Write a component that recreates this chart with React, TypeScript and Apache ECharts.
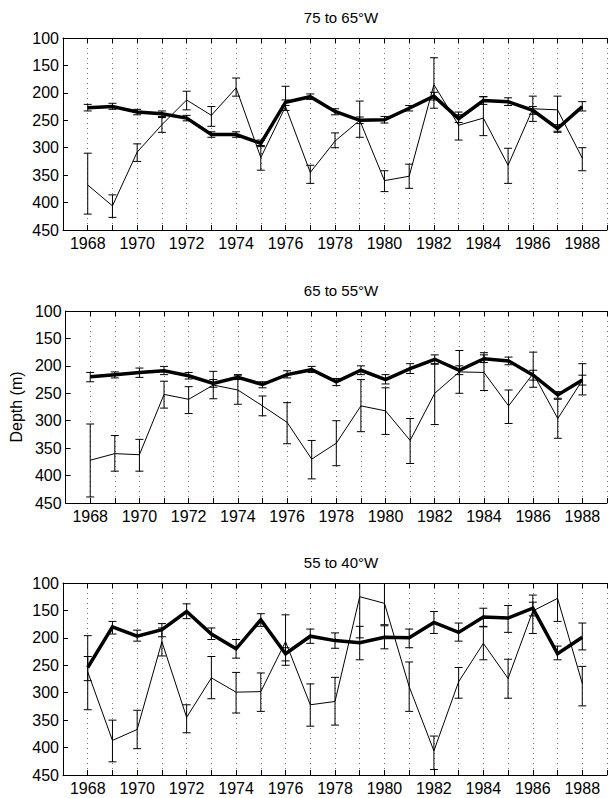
import React, { useEffect, useRef } from 'react';
import * as echarts from 'echarts';

const years = [1968, 1969, 1970, 1971, 1972, 1973, 1974, 1975, 1976, 1977, 1978, 1979, 1980, 1981, 1982, 1983, 1984, 1985, 1986, 1987, 1988];
const panelTitles = ['75 to 65°W', '65 to 55°W', '55 to 40°W'];
const yTicks = [100, 150, 200, 250, 300, 350, 400, 450];

// Panel 1: 75 to 65°W
const p1ThinMean = [368, 406, 308, 258, 213, 241, 191, 318, 225, 345, 288, 250, 360, 352, 185, 259, 246, 332, 229, 231, 319];
const p1ThinLo = [310, 386, 293, 245, 197, 225, 173, 296, 188, 332, 273, 215, 342, 330, 136, 235, 207, 301, 206, 206, 300];
const p1ThinHi = [421, 427, 325, 272, 231, 261, 206, 341, 232, 365, 300, 281, 380, 374, 228, 286, 278, 365, 252, 270, 342];
const p1ThickMean = [227, 225, 235, 238, 246, 276, 276, 292, 217, 207, 234, 250, 249, 228, 206, 247, 214, 216, 232, 265, 225];
const p1ThickLo = [221, 219, 230, 233, 241, 271, 271, 286, 213, 202, 229, 244, 243, 223, 199, 240, 207, 209, 225, 258, 216];
const p1ThickHi = [233, 230, 240, 243, 251, 281, 281, 298, 223, 212, 240, 256, 255, 233, 213, 254, 221, 223, 239, 272, 233];

// Panel 2: 65 to 55°W
const p2ThinMean = [372, 360, 362, 252, 261, 235, 244, 273, 303, 370, 341, 273, 282, 336, 250, 211, 212, 273, 214, 296, 226];
const p2ThinLo = [306, 327, 334, 228, 238, 210, 217, 255, 267, 336, 300, 225, 240, 296, 196, 172, 176, 244, 175, 261, 196];
const p2ThinHi = [439, 392, 392, 277, 287, 260, 270, 291, 342, 406, 382, 320, 325, 378, 307, 250, 245, 305, 239, 332, 253];
const p2ThickMean = [220, 216, 212, 209, 218, 232, 221, 234, 216, 207, 229, 208, 225, 205, 188, 208, 187, 191, 217, 253, 226];
const p2ThickLo = [212, 211, 204, 201, 212, 225, 216, 229, 209, 201, 223, 200, 216, 196, 180, 200, 180, 184, 208, 247, 217];
const p2ThickHi = [229, 222, 221, 216, 224, 239, 225, 240, 222, 212, 236, 216, 233, 214, 197, 216, 194, 198, 226, 259, 235];

// Panel 3: 55 to 40°W
const p3ThinMean = [262, 387, 367, 207, 345, 273, 299, 298, 207, 322, 316, 125, 137, 289, 406, 280, 210, 274, 151, 128, 283];
const p3ThinLo = [196, 350, 332, 182, 322, 234, 263, 264, 158, 284, 272, 50, 98, 244, 379, 254, 180, 239, 122, 98, 252];
const p3ThinHi = [331, 426, 402, 233, 373, 311, 337, 334, 250, 361, 359, 200, 176, 334, 440, 310, 240, 310, 192, 170, 324];
const p3ThickMean = [254, 180, 197, 185, 152, 193, 220, 167, 229, 197, 205, 209, 199, 200, 172, 190, 162, 164, 146, 229, 199];
const p3ThickLo = [234, 170, 186, 174, 138, 182, 203, 156, 218, 184, 191, 179, 178, 184, 152, 173, 146, 141, 135, 215, 173];
const p3ThickHi = [278, 193, 206, 198, 165, 203, 237, 179, 242, 210, 219, 240, 220, 218, 192, 206, 179, 190, 160, 240, 222];

const panels = [
  { thin: [p1ThinMean, p1ThinLo, p1ThinHi], thick: [p1ThickMean, p1ThickLo, p1ThickHi] },
  { thin: [p2ThinMean, p2ThinLo, p2ThinHi], thick: [p2ThickMean, p2ThickLo, p2ThickHi] },
  { thin: [p3ThinMean, p3ThinLo, p3ThinHi], thick: [p3ThickMean, p3ThickLo, p3ThickHi] },
];

const FONT = '"Liberation Sans", Arial, Helvetica, sans-serif';
const gridTops = [38, 311, 583];
const GRID_H = 192;

function errRender(params: any, api: any) {
  const x = api.value(0);
  const a = api.coord([x, api.value(1)]);
  const b = api.coord([x, api.value(2)]);
  const w = 4;
  const style = { stroke: '#000', lineWidth: 1, fill: null };
  return {
    type: 'group',
    children: [
      { type: 'line', shape: { x1: a[0], y1: a[1], x2: b[0], y2: b[1] }, style },
      { type: 'line', shape: { x1: a[0] - w, y1: a[1], x2: a[0] + w, y2: a[1] }, style },
      { type: 'line', shape: { x1: b[0] - w, y1: b[1], x2: b[0] + w, y2: b[1] }, style },
    ],
  };
}

export default function App() {
  const ref = useRef<HTMLDivElement>(null);
  useEffect(() => {
    if (!ref.current) return;
    const chart = echarts.init(ref.current, null, { renderer: 'svg' });
    const grid: any[] = [];
    const xAxis: any[] = [];
    const yAxis: any[] = [];
    const series: any[] = [];
    const title: any[] = [];
    panels.forEach((p, i) => {
      grid.push({ left: 63, right: -3, top: gridTops[i], height: GRID_H, containLabel: false });
      title.push({
        text: panelTitles[i],
        left: 336,
        top: gridTops[i] - 33,
        textAlign: 'center',
        textStyle: { fontFamily: FONT, fontSize: 15, fontWeight: 'normal', color: '#000' },
      });
      xAxis.push({
        type: 'value', gridIndex: i, min: 1967, max: 1989, interval: 1, position: 'bottom',
        axisLine: { show: true, onZero: false, lineStyle: { color: '#000', width: 1 } },
        axisTick: { show: true, inside: true, length: 5, lineStyle: { color: '#000' } },
        axisLabel: {
          formatter: (v: number) => (v % 2 === 0 ? String(v) : ''),
          color: '#000', fontSize: 16, fontFamily: FONT, margin: 5,
        },
        splitLine: { show: true, lineStyle: { color: '#777', width: 1, type: [1, 4] } },
      });
      xAxis.push({
        type: 'value', gridIndex: i, min: 1967, max: 1989, interval: 1, position: 'top',
        axisLine: { show: true, onZero: false, lineStyle: { color: '#000', width: 1 } },
        axisTick: { show: true, inside: true, length: 5, lineStyle: { color: '#000' } },
        axisLabel: { show: false },
        splitLine: { show: false },
      });
      yAxis.push({
        type: 'value', gridIndex: i, inverse: true, min: 100, max: 450, interval: 50,
        name: i === 1 ? 'Depth (m)' : '',
        nameLocation: 'middle', nameGap: 40, nameRotate: 90,
        nameTextStyle: { fontFamily: FONT, fontSize: 16, color: '#000' },
        axisLine: { show: true, onZero: false, lineStyle: { color: '#000', width: 1 } },
        axisTick: { show: true, inside: true, length: 5, lineStyle: { color: '#000' } },
        axisLabel: {
          color: '#000', fontSize: 16, fontFamily: FONT, margin: 4,
          formatter: (v: number) => (yTicks.includes(v) ? String(v) : ''),
        },
        splitLine: { show: false },
      });
      const [tm, tl, th] = p.thin;
      const [km, kl, kh] = p.thick;
      series.push({
        type: 'custom', xAxisIndex: 2 * i, yAxisIndex: i, clip: true, z: 2,
        renderItem: errRender,
        data: years.map((y, k) => [y, tl[k], th[k]]),
      });
      series.push({
        type: 'custom', xAxisIndex: 2 * i, yAxisIndex: i, clip: true, z: 2,
        renderItem: errRender,
        data: years.map((y, k) => [y, kl[k], kh[k]]),
      });
      series.push({
        type: 'line', xAxisIndex: 2 * i, yAxisIndex: i, showSymbol: false, symbol: 'none', z: 3,
        lineStyle: { color: '#000', width: 1 }, clip: true,
        data: years.map((y, k) => [y, tm[k]]),
      });
      series.push({
        type: 'line', xAxisIndex: 2 * i, yAxisIndex: i, showSymbol: false, symbol: 'none', z: 4,
        lineStyle: { color: '#000', width: 3.5, join: 'miter' }, clip: true,
        data: years.map((y, k) => [y, km[k]]),
      });
    });
    chart.setOption({
      animation: false,
      backgroundColor: '#fff',
      title, grid, xAxis, yAxis, series,
    });
    return () => chart.dispose();
  }, []);
  return <div ref={ref} style={{ position: 'absolute', left: 0, top: 0, width: 610, height: 798 }} />;
}
